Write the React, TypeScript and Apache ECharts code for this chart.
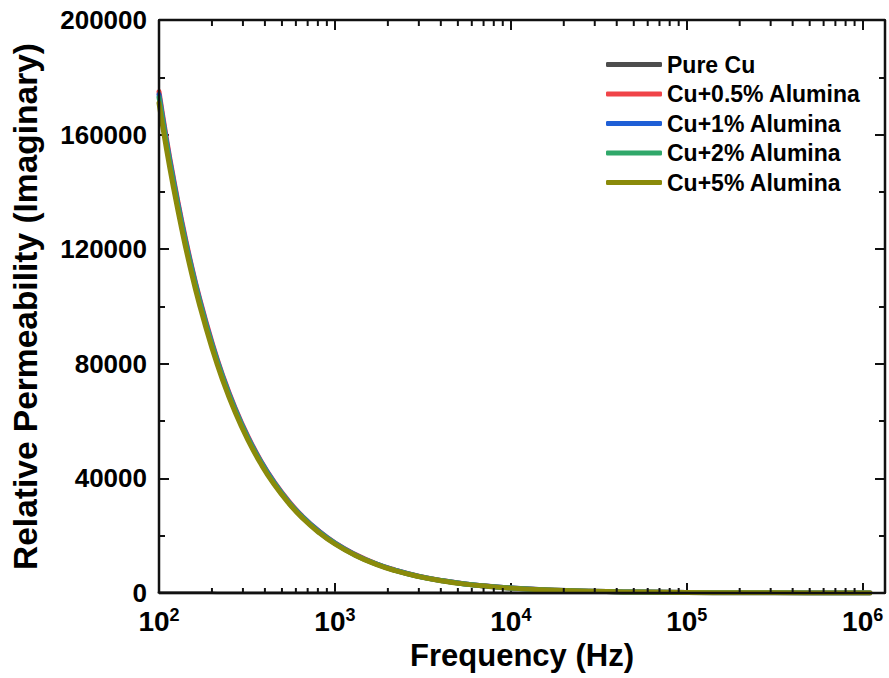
import React, { useEffect, useRef } from "react";
import * as echarts from "echarts";

const FREQ = [100, 110, 120, 135, 150, 170, 200, 230, 270, 320, 380, 450, 550, 650, 800, 1000, 1300, 1700, 2200, 3000, 4000, 5500, 7500, 10000, 15000, 22000, 35000, 55000, 100000, 200000, 500000, 1100000];

const SERIES_NAMES = ["Pure Cu", "Cu+0.5% Alumina", "Cu+1% Alumina", "Cu+2% Alumina", "Cu+5% Alumina"];
const SERIES_COLORS = ["#4d4d4d", "#f04448", "#1f5fd6", "#30a86a", "#8a8a0a"];

const PURE_CU = [90, 82, 75, 67, 60, 53, 45, 39, 33, 28, 24, 20, 16, 14, 11, 9, 7, 5, 4, 3, 2, 1.6, 1.2, 0.9, 0.6, 0.4, 0.26, 0.16, 0.09, 0.05, 0.02, 0.01];
const CU_05 = [175000, 159000, 145800, 129600, 116600, 102900, 87500, 76000, 64800, 54700, 46000, 38900, 31800, 26900, 21900, 17500, 13500, 10300, 8000, 5830, 4400, 3180, 2350, 1750, 1170, 800, 500, 320, 175, 87, 35, 16];
const CU_1 = [174000, 158100, 145000, 128900, 116000, 102400, 87000, 75600, 64400, 54300, 45800, 38700, 31600, 26800, 21800, 17400, 13400, 10250, 7950, 5800, 4370, 3160, 2330, 1740, 1160, 790, 500, 315, 174, 87, 35, 16];
const CU_2 = [173000, 157200, 144100, 128100, 115300, 101800, 86500, 75200, 64000, 54000, 45500, 38400, 31400, 26600, 21600, 17300, 13300, 10200, 7900, 5770, 4340, 3140, 2310, 1730, 1150, 785, 495, 313, 173, 86, 35, 16];
const CU_5 = [171000, 155400, 142500, 126700, 114000, 100600, 85500, 74300, 63300, 53400, 45000, 38000, 31100, 26300, 21400, 17100, 13200, 10100, 7800, 5700, 4300, 3100, 2300, 1700, 1150, 780, 490, 310, 170, 85, 35, 16];
const SERIES_VALUES = [PURE_CU, CU_05, CU_1, CU_2, CU_5];

const X_MIN = 100;
const X_MAX = 1340000;
const Y_MIN = 0;
const Y_MAX = 200000;
const Y_INTERVAL = 40000;
const DECADES = [100, 1000, 10000, 100000];
const MINOR_MULT = [2, 3, 4, 5, 6, 7, 8, 9];

const FONT = "'Liberation Sans', Arial, Helvetica, sans-serif";

export default function App() {
  const ref = useRef<HTMLDivElement>(null);

  useEffect(() => {
    if (!ref.current) return;
    const chart = echarts.init(ref.current, undefined, { renderer: "svg" });

    const minorTicks: number[][] = [];
    DECADES.forEach((d) => MINOR_MULT.forEach((m) => minorTicks.push([d * m, 0])));

    const powLabel = (v: number) => {
      const e = Math.round(Math.log10(v));
      if (Math.abs(Math.pow(10, e) - v) / v > 1e-6) return "";
      return "{b|10}{s|" + e + "}";
    };

    const tickStyle = () => ({ color: "#111", width: 2 });

    const lineSeries = SERIES_NAMES.map((name, i) => ({
      name,
      type: "line",
      xAxisIndex: 0,
      yAxisIndex: 0,
      data: FREQ.map((f, j) => [f, SERIES_VALUES[i][j]]),
      showSymbol: false,
      symbol: "none",
      smooth: true,
      lineStyle: { color: SERIES_COLORS[i], width: i === 0 ? 3 : 5, cap: "round", join: "round" },
      itemStyle: { color: SERIES_COLORS[i] },
      z: 3 + i,
    }));

    const option: any = {
      animation: false,
      backgroundColor: "#ffffff",
      textStyle: { fontFamily: FONT },
      grid: {
        left: 159,
        right: 4,
        top: 20,
        bottom: 85,
        containLabel: false,
        outerBoundsMode: "none",
      },
      legend: {
        data: SERIES_NAMES,
        orient: "vertical",
        left: 606,
        top: 53,
        padding: 0,
        icon: "roundRect",
        itemWidth: 56,
        itemHeight: 5,
        itemGap: 6.5,
        textStyle: { fontSize: 23, fontWeight: "bold", color: "#000", fontFamily: FONT },
        selectedMode: false,
      },
      xAxis: [
        {
          type: "log",
          logBase: 10,
          min: X_MIN,
          max: X_MAX,
          position: "bottom",
          name: "Frequency (Hz)",
          nameLocation: "middle",
          nameGap: 44,
          nameTextStyle: { fontSize: 31, fontWeight: "bold", color: "#000", fontFamily: FONT },
          axisLine: { show: true, onZero: false, lineStyle: { color: "#111", width: 2 } },
          axisTick: { show: true, inside: true, length: 10, lineStyle: tickStyle() },
          splitLine: { show: false },
          axisLabel: {
            show: true,
            margin: 13,
            showMaxLabel: false,
            formatter: powLabel,
            rich: {
              b: { fontSize: 28, fontWeight: "bold", color: "#000", fontFamily: FONT, lineHeight: 30 },
              s: { fontSize: 18, fontWeight: "bold", color: "#000", fontFamily: FONT, lineHeight: 18, verticalAlign: "top" },
            },
          },
        },
        {
          type: "log",
          logBase: 10,
          min: X_MIN,
          max: X_MAX,
          position: "top",
          axisLine: { show: true, onZero: false, lineStyle: { color: "#111", width: 2 } },
          axisTick: { show: true, inside: true, length: 10, lineStyle: tickStyle() },
          axisLabel: { show: false },
          splitLine: { show: false },
        },
      ],
      yAxis: [
        {
          type: "value",
          min: Y_MIN,
          max: Y_MAX,
          interval: Y_INTERVAL,
          position: "left",
          name: "Relative Permeability (Imaginary)",
          nameLocation: "middle",
          nameGap: 117,
          nameTextStyle: { fontSize: 33.5, fontWeight: "bold", color: "#000", fontFamily: FONT },
          axisLine: { show: true, onZero: false, lineStyle: { color: "#111", width: 2 } },
          axisTick: { show: true, inside: true, length: 10, lineStyle: tickStyle() },
          minorTick: { show: true, splitNumber: 2, length: 6, lineStyle: tickStyle() },
          splitLine: { show: false },
          axisLabel: {
            show: true,
            margin: 12,
            fontSize: 26,
            fontWeight: "bold",
            color: "#000",
            fontFamily: FONT,
            formatter: (v: number) => String(v),
          },
        },
        {
          type: "value",
          min: Y_MIN,
          max: Y_MAX,
          interval: Y_INTERVAL,
          position: "right",
          axisLine: { show: true, onZero: false, lineStyle: { color: "#111", width: 2 } },
          axisTick: { show: true, inside: true, length: 10, lineStyle: tickStyle() },
          minorTick: { show: true, splitNumber: 2, length: 6, lineStyle: tickStyle() },
          splitLine: { show: false },
          axisLabel: { show: false },
        },
      ],
      series: [
        ...lineSeries,
        {
          type: "custom",
          name: "minorTicks",
          xAxisIndex: 0,
          yAxisIndex: 0,
          silent: true,
          z: 10,
          clip: false,
          data: minorTicks,
          renderItem: (_params: any, api: any) => {
            const f = api.value(0);
            const pb = api.coord([f, Y_MIN]);
            const pt = api.coord([f, Y_MAX]);
            return {
              type: "group",
              children: [
                { type: "line", shape: { x1: pb[0], y1: pb[1], x2: pb[0], y2: pb[1] - 5 }, style: { stroke: "#111", lineWidth: 2 } },
                { type: "line", shape: { x1: pt[0], y1: pt[1], x2: pt[0], y2: pt[1] + 6 }, style: { stroke: "#111", lineWidth: 2 } },
              ],
            };
          },
        },
        {
          type: "custom",
          name: "frame",
          xAxisIndex: 0,
          yAxisIndex: 0,
          silent: true,
          z: 11,
          clip: false,
          data: [[X_MIN, Y_MIN]],
          renderItem: (_params: any, api: any) => {
            const tl = api.coord([X_MIN, Y_MAX]);
            const br = api.coord([X_MAX, Y_MIN]);
            return {
              type: "group",
              children: [
                { type: "line", shape: { x1: tl[0], y1: tl[1], x2: br[0], y2: tl[1] }, style: { stroke: "#111", lineWidth: 2.5 } },
                { type: "line", shape: { x1: tl[0], y1: br[1], x2: br[0], y2: br[1] }, style: { stroke: "#111", lineWidth: 2.5 } },
                { type: "line", shape: { x1: tl[0], y1: tl[1], x2: tl[0], y2: br[1] }, style: { stroke: "#111", lineWidth: 2.5 } },
                { type: "line", shape: { x1: br[0], y1: tl[1], x2: br[0], y2: br[1] }, style: { stroke: "#111", lineWidth: 2.5 } },
              ],
            };
          },
        },
      ],
    };

    chart.setOption(option);
    return () => chart.dispose();
  }, []);

  return (
    <div
      ref={ref}
      style={{ position: "fixed", left: 0, top: 0, width: 889, height: 678, background: "#fff" }}
    />
  );
}
